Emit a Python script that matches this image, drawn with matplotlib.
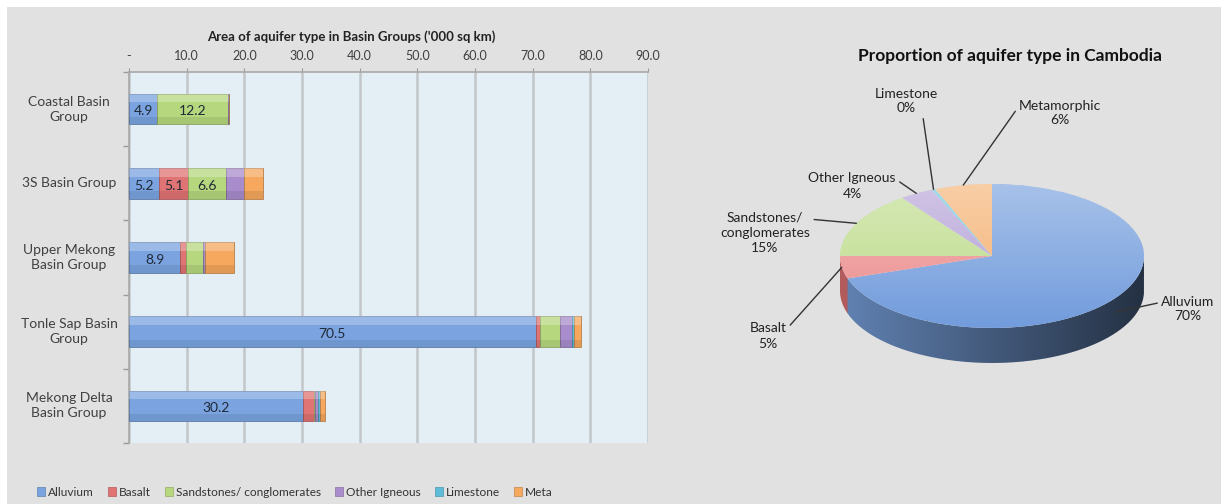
import numpy as np
import matplotlib.pyplot as plt
from matplotlib.patches import Rectangle, PathPatch, Ellipse
from matplotlib.path import Path
from matplotlib.colors import to_rgb

plt.rcParams['font.family'] = ['Lato', 'DejaVu Sans']

# ---- data ----
basins = ["Coastal Basin\nGroup", "3S Basin Group", "Upper Mekong\nBasin Group",
          "Tonle Sap Basin\nGroup", "Mekong Delta\nBasin Group"]
aquifers = ["Alluvium", "Basalt", "Sandstones/ conglomerates",
            "Other Igneous", "Limestone", "Meta"]
alluvium = [4.9, 5.2, 8.9, 70.5, 30.2]
basalt = [0.0, 5.1, 1.0, 0.7, 1.9]
sandstones = [12.2, 6.6, 3.0, 3.5, 0.2]
other_igneous = [0.2, 3.0, 0.3, 2.1, 0.5]
limestone = [0.0, 0.1, 0.0, 0.3, 0.3]
metamorphic = [0.1, 3.2, 5.0, 1.2, 0.9]
xticks = [0, 10, 20, 30, 40, 50, 60, 70, 80, 90]
pie_labels = ["Alluvium", "Basalt", "Sandstones/\nconglomerates",
              "Other Igneous", "Limestone", "Metamorphic"]

series = [alluvium, basalt, sandstones, other_igneous, limestone, metamorphic]
labelled = [True, True, True, False, False, False]   # series that carry value labels
colors = ["#7aa3e0", "#e07374", "#b6d77e", "#a98ccb", "#5fbcd8", "#f5a85e"]
pie_colors = ["#729cdc", "#ec8d8d", "#bddb8a", "#b3a0d6", "#6cc4dd", "#f5b070"]

W, H = 1221, 504
BG = "#e1e1e1"
fig = plt.figure(figsize=(W / 100, H / 100), dpi=100, facecolor=BG)
fig.patches.append(Rectangle((0, 1 - 7 / H), 1, 7 / H, transform=fig.transFigure,
                             facecolor="white", edgecolor="none", zorder=-1))
fig.patches.append(Rectangle((0, 0), 7 / W, 1, transform=fig.transFigure,
                             facecolor="white", edgecolor="none", zorder=-1))

# ---- stacked bar chart ----
ax = fig.add_axes([129 / W, (H - 443) / H, (648 - 129) / W, (443 - 72) / H])
ax.set_facecolor("#e4eff5")
y = np.arange(len(basins))
bh = 0.41
left = np.zeros(len(basins))
for vals, col, lab in zip(series, colors, labelled):
    vals = np.array(vals)
    ax.barh(y, vals, height=bh, left=left, color=col, edgecolor=np.array(to_rgb(col)) * 0.75,
            linewidth=0.6, zorder=3)
    # glossy highlight on the upper part, shade on the lower part
    ax.barh(y - bh / 2 + bh * 0.14, vals, height=bh * 0.28, left=left, color="white",
            alpha=0.25, linewidth=0, zorder=4)
    ax.barh(y + bh / 2 - bh * 0.12, vals, height=bh * 0.24, left=left, color="black",
            alpha=0.08, linewidth=0, zorder=4)
    if lab:
        for yi, (l, v) in enumerate(zip(left, vals)):
            if v >= 4.5:
                ax.text(l + v / 2, yi + 0.03, f"{v:.1f}", ha="center", va="center",
                        fontsize=10, color="#1f2a36", zorder=5)
    left = left + vals

ax.set_xlim(0, 90)
ax.set_ylim(len(basins) - 0.5, -0.5)
ax.xaxis.tick_top()
ax.set_xticks(xticks)
ax.set_xticklabels(["-" if t == 0 else f"{t:.1f}" for t in xticks])
ax.xaxis.set_label_position("top")
ax.set_xlabel("Area of aquifer type in Basin Groups ('000 sq km)", fontweight="bold",
              fontsize=9.5, labelpad=7, color="#222222")
ax.xaxis.label.set_x((351 - 129) / (648 - 129))
ax.set_yticks(y)
ax.set_yticklabels([])
for yi, name in zip(y, basins):
    ax.text(-60 / 519, yi, name, transform=ax.get_yaxis_transform(), ha="center", va="center",
            fontsize=10, color="#404040", linespacing=1.3)
ax.set_yticks(np.arange(-0.5, len(basins)), minor=True)
ax.tick_params(axis="y", which="major", length=0)
ax.tick_params(axis="y", which="minor", length=4, color="#9a9a9a", width=1)
ax.tick_params(axis="x", length=3, color="#9a9a9a", labelsize=9, labelcolor="#404040", pad=4)
ax.grid(axis="x", color="#c2c6c8", linewidth=1.8, zorder=0)
ax.set_axisbelow(True)
for s in ["right", "bottom"]:
    ax.spines[s].set_visible(False)
for s in ["left", "top"]:
    ax.spines[s].set_color("#a8a8a8")
    ax.spines[s].set_linewidth(1.2)

handles = [Rectangle((0, 0), 1, 1, facecolor=c, edgecolor=np.array(to_rgb(c)) * 0.8, linewidth=0.5)
           for c in colors]
fig.legend(handles, aquifers, loc="center left", bbox_to_anchor=(26 / W, 1 - 492 / H), ncol=6,
           frameon=False, fontsize=8.6, handlelength=0.7, handleheight=0.7,
           handletextpad=0.25, columnspacing=1.15, labelcolor="#333333")

# ---- 3D-looking pie ----
totals = np.array([sum(v) for v in series])
share = totals / totals.sum() * 100

cx, cy, rx, ry, depth = 992, 256, 152, 72, 35
dd = depth / ry
pax = fig.add_axes([(cx - rx) / W, (H - (cy + ry + depth)) / H, 2 * rx / W, (2 * ry + depth) / H])
wedges, _ = pax.pie(share, colors=pie_colors, startangle=90, counterclock=False,
                    radius=1, wedgeprops=dict(linewidth=0))
for w in wedges:
    w.set_zorder(3)

# side band (front half), coloured per wedge with left-to-right shading
t = np.linspace(np.pi, 2 * np.pi, 200)
verts = np.concatenate([np.c_[np.cos(t), np.sin(t)], np.c_[np.cos(t[::-1]), np.sin(t[::-1]) - dd]])
side = PathPatch(Path(verts), facecolor="none", edgecolor="none")
pax.add_patch(side)
xs = np.linspace(-1, 1, 400)
ang = 360 - np.degrees(np.arccos(xs))
off = (90 - ang) % 360
edges = np.cumsum(share) / 100 * 360
idx = np.clip(np.searchsorted(edges, off), 0, len(share) - 1)
shade = 0.8 - 0.5 * (xs + 1) / 2
img = np.array([np.array(to_rgb(colors[i])) * s for i, s in zip(idx, shade)])[None, :, :]
im = pax.imshow(img, extent=(-1, 1, -1 - dd, 0), aspect="auto", zorder=2, interpolation="bilinear")
im.set_clip_path(side)

# soft light on the top surface
grad = np.linspace(0.38, 0.0, 100)[:, None, None] * np.ones((100, 2, 1))
top_img = np.concatenate([np.ones((100, 2, 3)), grad], axis=2)
top = Ellipse((0, 0), 2, 2, facecolor="none", edgecolor="none")
pax.add_patch(top)
tim = pax.imshow(top_img, extent=(-1, 1, -1, 1), aspect="auto", zorder=4)
tim.set_clip_path(top)

pax.set_aspect("auto")
pax.set_xlim(-1, 1)
pax.set_ylim(-1 - dd, 1)
pax.axis("off")

# label positions (text centre, pixels from top-left) and leader start side
label_pos = [(1188, 309), (768, 336), (765, 233), (852, 186), (906, 101), (1060, 113)]
rel_pos = [(0, 0.75), (1, 0.75), (1, 0.83), (1, 0.75), (0.75, 0.2), (0, 0.75)]
start = 90
for lab, s, (lx, ly), rp in zip(pie_labels, share, label_pos, rel_pos):
    mid = np.radians(start - s / 100 * 360 / 2)
    start -= s / 100 * 360
    ax_pt = (np.cos(mid), np.sin(mid) - (dd * 0.4 if np.sin(mid) < -0.3 else 0))
    pax.annotate(f"{lab}\n{round(s):.0f}%", xy=ax_pt, xycoords="data",
                 xytext=(lx, H - ly), textcoords="figure pixels", ha="center", va="center",
                 fontsize=10, color="#222222", linespacing=1.3, annotation_clip=False,
                 arrowprops=dict(arrowstyle="-", color="#333333", lw=1.0, shrinkA=1, shrinkB=0,
                                 relpos=rp))

fig.text(1010 / W, 1 - 56 / H, "Proportion of aquifer type in Cambodia", ha="center", va="center",
         fontsize=12.5, fontweight="bold", color="#111111")

fig.savefig("out.png", dpi=100, facecolor=BG)
